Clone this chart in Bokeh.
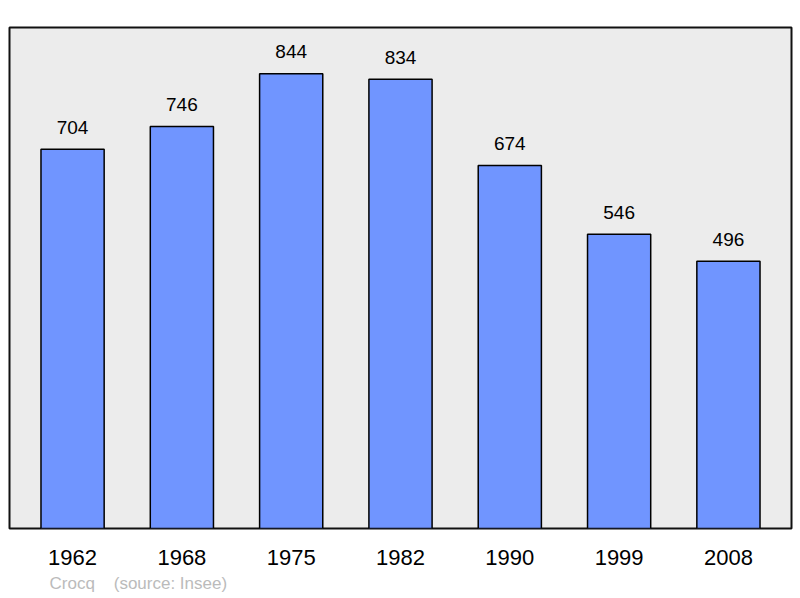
from bokeh.plotting import figure
from bokeh.models import ColumnDataSource, FixedTicker, Range1d, Title
from bokeh.core.properties import value
from bokeh.embed import file_html
from bokeh.resources import INLINE

years = ["1962", "1968", "1975", "1982", "1990", "1999", "2008"]
population = [704, 746, 844, 834, 674, 546, 496]
positions = list(range(len(years)))
footer = "Crocq\u00a0\u00a0\u00a0\u00a0(source: Insee)"

src = ColumnDataSource(dict(x=positions, y=population, label=[str(v) for v in population]))

p = figure(width=800, height=598, output_backend="svg", toolbar_location=None,
           x_range=Range1d(-0.577, 6.577), y_range=Range1d(0, 930),
           min_border_left=9, min_border_right=9, min_border_top=27, min_border_bottom=70)
p.background_fill_color = "#ececec"
p.border_fill_color = "white"
p.outline_line_color = "#111111"
p.outline_line_width = 2
p.grid.visible = False
p.yaxis.visible = False

p.vbar(x="x", top="y", width=0.578, source=src, fill_color="#7095ff",
       line_color="black", line_width=1.5)
p.text(x="x", y="y", text="label", source=src, text_align="center",
       text_baseline="alphabetic", y_offset=-22, text_font_size="19px",
       text_color="black", text_font=value("Liberation Sans"))

xa = p.xaxis[0]
xa.ticker = FixedTicker(ticks=positions)
xa.major_label_overrides = {i: y for i, y in enumerate(years)}
xa.major_label_text_font_size = "22px"
xa.major_label_text_font = "Liberation Sans"
xa.major_label_text_color = "black"
xa.axis_line_color = None
xa.major_tick_line_color = None
xa.minor_tick_line_color = None
xa.major_label_standoff = 15

p.add_layout(Title(text=footer, align="left", offset=40, standoff=8,
                   text_font_size="17px", text_color="#bbbbbb",
                   text_font="Liberation Sans", text_font_style="normal"), "below")

open("out.html", "w").write(file_html(p, INLINE))
